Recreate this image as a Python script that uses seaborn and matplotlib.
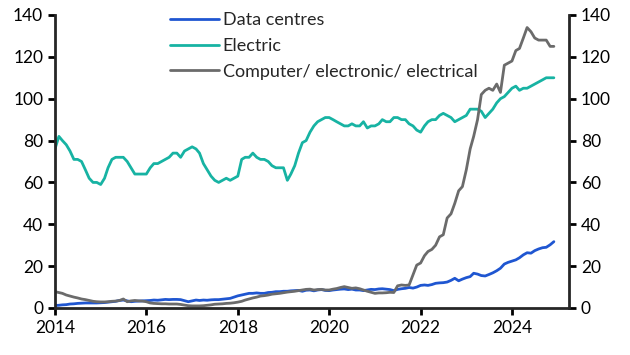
import pandas as pd
import matplotlib
matplotlib.use("Agg")
import matplotlib.pyplot as plt
import matplotlib.dates as mdates
import seaborn as sns

# monthly values, Jan 2014 - Dec 2024
data_centres = [
    1.2, 1.3, 1.5, 1.6, 1.9, 2.0, 2.2, 2.3, 2.4, 2.4, 2.4, 2.4,
    2.5, 2.6, 2.8, 3.0, 3.2, 3.6, 3.8, 3.4, 3.0, 3.2, 3.3, 3.4,
    3.5, 3.6, 3.8, 3.7, 3.9, 4.1, 4.0, 4.1, 4.1, 4.0, 3.5, 3.0,
    3.4, 3.8, 3.6, 3.8, 3.7, 3.9, 4.0, 4.0, 4.2, 4.4, 4.6, 5.2,
    5.8, 6.2, 6.6, 7.0, 7.0, 7.2, 7.0, 7.0, 7.4, 7.5, 7.8, 7.8,
    8.0, 8.0, 8.2, 8.3, 8.4, 8.0, 8.5, 8.6, 8.2, 8.6, 8.8, 8.4,
    8.3, 8.6, 8.8, 9.0, 9.1, 8.8, 9.0, 8.6, 8.6, 8.3, 8.6, 8.9,
    8.8, 9.1, 9.2, 9.0, 8.8, 8.3, 8.9, 9.2, 9.4, 9.8, 9.5, 10.0,
    10.8, 11.0, 10.8, 11.2, 11.8, 12.0, 12.1, 12.4, 13.2, 14.2, 13.0, 13.8,
    14.5, 15.0, 16.6, 16.2, 15.5, 15.3, 16.0, 16.8, 17.8, 19.0, 21.0, 21.8,
    22.4, 23.0, 24.0, 25.4, 26.4, 26.2, 27.4, 28.2, 28.8, 29.0, 30.2, 31.7,
]
electric = [
    76, 82, 80, 78, 75, 71, 71, 70, 66, 62, 60, 60,
    59, 62, 67, 71, 72, 72, 72, 70, 67, 64, 64, 64,
    64, 67, 69, 69, 70, 71, 72, 74, 74, 72, 75, 76,
    77, 76, 74, 69, 66, 63, 61, 60, 61, 62, 61, 62,
    63, 71, 72, 72, 74, 72, 71, 71, 70, 68, 67, 67,
    67, 61, 64, 68, 74, 79, 80, 84, 87, 89, 90, 91,
    91, 90, 89, 88, 87, 87, 88, 87, 87, 89, 86, 87,
    87, 88, 90, 89, 89, 91, 91, 90, 90, 88, 87, 85,
    84, 87, 89, 90, 90, 92, 93, 92, 91, 89, 90, 91,
    92, 95, 95, 95, 94, 91, 93, 95, 98, 100, 101, 103,
    105, 106, 104, 105, 105, 106, 107, 108, 109, 110, 110, 110,
]
computer = [
    7.8, 7.4, 7.0, 6.2, 5.7, 5.2, 4.8, 4.3, 4.0, 3.6, 3.2, 3.0,
    2.9, 2.9, 3.0, 3.2, 3.3, 3.6, 4.3, 3.0, 3.4, 3.6, 3.4, 3.3,
    3.0, 2.4, 2.2, 2.1, 2.0, 2.0, 1.9, 1.9, 1.9, 1.7, 1.4, 1.1,
    1.0, 1.0, 1.0, 1.1, 1.3, 1.5, 1.8, 1.9, 2.0, 2.2, 2.3, 2.5,
    2.8, 3.2, 3.8, 4.3, 4.8, 5.2, 5.7, 5.9, 6.2, 6.6, 6.8, 7.0,
    7.3, 7.6, 7.8, 8.0, 8.3, 8.6, 8.9, 9.0, 8.6, 8.8, 8.9, 8.6,
    8.6, 9.0, 9.3, 9.8, 10.2, 9.8, 9.4, 9.6, 9.2, 8.6, 8.0, 7.5,
    7.0, 7.2, 7.2, 7.3, 7.5, 7.4, 10.6, 11.0, 10.8, 11.0, 15.8, 20.5,
    21.5, 25, 27, 28, 30, 34, 35, 43, 45, 50, 56, 58,
    66, 76, 82, 90, 102, 104, 105, 104, 107, 103, 116, 117,
    118, 123, 124, 129, 134, 132, 129, 128, 128, 128, 125, 125,
]
series_names = ["Data centres", "Electric", "Computer/ electronic/ electrical"]
colors = ["#1f56d1", "#17b3a3", "#6b6b6b"]
y_ticks = [0, 20, 40, 60, 80, 100, 120, 140]

dates = pd.date_range("2014-01-01", periods=len(electric), freq="MS")
df = pd.DataFrame({
    "date": list(dates) * 3,
    "value": data_centres + electric + computer,
    "series": [s for s in series_names for _ in dates],
})

sns.set_style("ticks")
plt.rcParams["font.family"] = ["Lato", "DejaVu Sans"]
plt.rcParams["font.size"] = 12

fig = plt.figure(figsize=(6.3, 3.55), dpi=100)
ax = fig.add_axes([0.0873, 0.1324, 0.8159, 0.8254])

sns.lineplot(data=df, x="date", y="value", hue="series", palette=colors,
             hue_order=series_names, linewidth=2.0, ax=ax)

ax.set_xlim(pd.Timestamp("2014-01-01"), pd.Timestamp("2025-04-01"))
ax.set_ylim(0, 140)
ax.set_yticks(y_ticks)
ax.xaxis.set_major_locator(mdates.YearLocator(2))
ax.xaxis.set_major_formatter(mdates.DateFormatter("%Y"))
ax.set_xlabel("")
ax.set_ylabel("")

ax2 = ax.twinx()
ax2.set_ylim(0, 140)
ax2.set_yticks(y_ticks)

for a in (ax, ax2):
    a.spines["top"].set_visible(False)
    for s in a.spines.values():
        s.set_linewidth(2)
    a.tick_params(width=2, length=5, labelsize=12.5, colors="black")
ax.spines["right"].set_visible(False)
ax2.spines["left"].set_visible(False)
ax2.spines["bottom"].set_visible(False)

ax.legend(loc="upper left", bbox_to_anchor=(0.21, 1.035), frameon=False,
          fontsize=13, handlelength=2.7, handletextpad=0.2, labelspacing=0.55,
          borderaxespad=0)

fig.savefig("out.png", dpi=100)
